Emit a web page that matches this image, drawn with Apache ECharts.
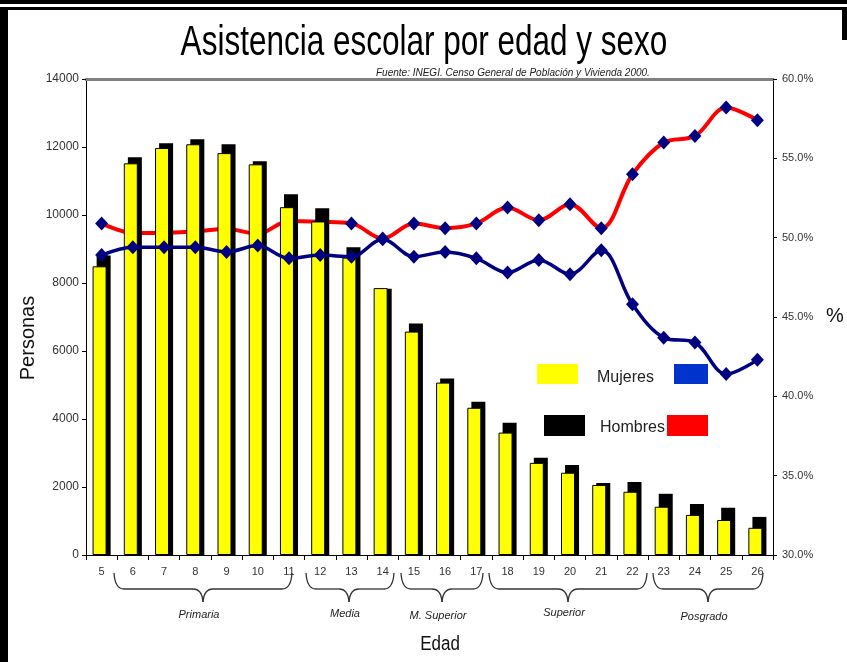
<!DOCTYPE html>
<html><head><meta charset="utf-8">
<script src="https://cdn.jsdelivr.net/npm/echarts@6/dist/echarts.min.js"></script>
<style>html,body{margin:0;padding:0;background:#fff}#c{width:847px;height:662px}</style>
</head><body><div id="c"></div>
<script>
const categories = ['5','6','7','8','9','10','11','12','13','14','15','16','17','18','19','20','21','22','23','24','25','26'];
const mujeres = [8490, 11520, 11970, 12080, 11820, 11490, 10230, 9810, 8750, 7850, 6570, 5070, 4330, 3600, 2710, 2420, 2060, 1860, 1420, 1180, 1030, 800];
const hombres = [8810, 11700, 12110, 12230, 12080, 11580, 10610, 10200, 9050, 7830, 6810, 5190, 4510, 3890, 2860, 2650, 2120, 2150, 1800, 1500, 1390, 1120];
const pctMujeres = [48.9, 49.4, 49.4, 49.4, 49.1, 49.5, 48.7, 48.9, 48.8, 49.9, 48.8, 49.1, 48.7, 47.8, 48.6, 47.7, 49.2, 45.8, 43.7, 43.4, 41.4, 42.3];
const pctHombres = [50.9, 50.3, 50.3, 50.4, 50.55, 50.25, 51.05, 51.0, 50.9, 49.95, 50.9, 50.6, 50.9, 51.9, 51.1, 52.1, 50.6, 54.0, 56.0, 56.4, 58.2, 57.4];
const yTicksLeft = {min: 0, max: 14000, interval: 2000};
const yTicksRight = {min: 30, max: 60, interval: 5};
const groups = [
  {name: 'Primaria', xL: 114, xM: 203, xR: 292, ly: 615},
  {name: 'Media', xL: 306, xM: 349, xR: 394, ly: 614},
  {name: 'M. Superior', xL: 401, xM: 442, xR: 483, ly: 616},
  {name: 'Superior', xL: 489, xM: 568, xR: 647, ly: 613},
  {name: 'Posgrado', xL: 653, xM: 708, xR: 763, ly: 617}
];

const FONT = '"Liberation Sans", Arial, sans-serif';
const chart = echarts.init(document.getElementById('c'), null, {renderer: 'canvas'});

function txt(text, x, y, size, opts) {
  opts = opts || {};
  return {
    type: 'text', x: x, y: y, z: 100,
    rotation: opts.rotation || 0,
    scaleX: opts.scaleX || 1,
    silent: true,
    style: {
      text: text, fill: opts.color || '#222',
      font: (opts.italic ? 'italic ' : '') + size + 'px ' + FONT,
      align: opts.align || 'center', verticalAlign: 'middle',
      textAlign: opts.align || 'center', textVerticalAlign: 'middle'
    }
  };
}
function rect(x, y, w, h, color) {
  return {type: 'rect', z: 100, silent: true, shape: {x: x, y: y, width: w, height: h}, style: {fill: color}};
}
const graphics = [];
// frame
graphics.push(rect(0, 0, 847, 4, '#000'));
graphics.push(rect(0, 7, 847, 3, '#000'));
graphics.push(rect(0, 7, 8, 655, '#000'));
graphics.push(rect(842, 7, 5, 33, '#000'));
// title & texts
graphics.push(txt('Asistencia escolar por edad y sexo', 424, 43, 42, {color: '#000', scaleX: 0.75}));
graphics.push(txt('Fuente: INEGI. Censo General de Población y Vivienda 2000.', 376, 73, 10, {italic: true, align: 'left', color: '#222'}));
graphics.push(txt('Personas', 28, 338, 20, {rotation: Math.PI / 2, color: '#111'}));
graphics.push(txt('%', 835, 316, 20, {color: '#111'}));
graphics.push(txt('Edad', 440, 644, 20, {color: '#111', scaleX: 0.85}));
// legend
graphics.push(rect(537, 364, 41, 20, '#ffff00'));
graphics.push(txt('Mujeres', 597, 378, 16, {align: 'left', color: '#222'}));
graphics.push(rect(674, 364, 34, 20, '#0033cc'));
graphics.push(rect(544, 415, 41, 21, '#000000'));
graphics.push(txt('Hombres', 600, 428, 16, {align: 'left', color: '#222'}));
graphics.push(rect(667, 415, 41, 21, '#ff0000'));
// braces
const yTop = 573, yMid = 589, yTip = 602, r = 10;
const bStyle = {stroke: '#333', lineWidth: 1.3, fill: null};
groups.forEach(function (g) {
  graphics.push({type: 'bezierCurve', z: 100, silent: true, shape: {x1: g.xL, y1: yTop, x2: g.xL + r, y2: yMid, cpx1: g.xL + 1, cpy1: yMid}, style: bStyle});
  graphics.push({type: 'line', z: 100, silent: true, shape: {x1: g.xL + r, y1: yMid, x2: g.xM - r, y2: yMid}, style: bStyle});
  graphics.push({type: 'bezierCurve', z: 100, silent: true, shape: {x1: g.xM - r, y1: yMid, x2: g.xM, y2: yTip, cpx1: g.xM - 1, cpy1: yMid}, style: bStyle});
  graphics.push({type: 'bezierCurve', z: 100, silent: true, shape: {x1: g.xM, y1: yTip, x2: g.xM + r, y2: yMid, cpx1: g.xM + 1, cpy1: yMid}, style: bStyle});
  graphics.push({type: 'line', z: 100, silent: true, shape: {x1: g.xM + r, y1: yMid, x2: g.xR - r, y2: yMid}, style: bStyle});
  graphics.push({type: 'bezierCurve', z: 100, silent: true, shape: {x1: g.xR - r, y1: yMid, x2: g.xR, y2: yTop, cpx1: g.xR - 1, cpy1: yMid}, style: bStyle});
  graphics.push(txt(g.name, g.xM - 4, g.ly, 11, {italic: true, color: '#222'}));
});

const axisLbl = {fontFamily: FONT, fontSize: 11, color: '#333'};
chart.setOption({
  animation: false,
  backgroundColor: '#fff',
  grid: {left: 86, right: 74, top: 79, bottom: 107, containLabel: false},
  xAxis: [
    {type: 'category', data: categories, boundaryGap: true,
     axisLine: {show: true, lineStyle: {color: '#000', width: 1}},
     axisTick: {show: true, length: 5, lineStyle: {color: '#000'}},
     axisLabel: Object.assign({margin: 11, interval: 0}, axisLbl),
     splitLine: {show: false}},
    {type: 'category', data: categories, position: 'top', boundaryGap: true,
     axisLine: {show: true, lineStyle: {color: '#808080', width: 3}},
     axisTick: {show: false}, axisLabel: {show: false}, splitLine: {show: false}}
  ],
  yAxis: [
    {type: 'value', position: 'left', min: yTicksLeft.min, max: yTicksLeft.max, interval: yTicksLeft.interval,
     axisLine: {show: true, lineStyle: {color: '#000', width: 1}},
     axisTick: {show: true, length: 4, lineStyle: {color: '#000'}},
     axisLabel: Object.assign({margin: 7, formatter: function (v) { return String(v); }}, axisLbl, {fontSize: 12}),
     splitLine: {show: false}},
    {type: 'value', position: 'right', min: yTicksRight.min, max: yTicksRight.max, interval: yTicksRight.interval,
     axisLine: {show: true, lineStyle: {color: '#000', width: 1}},
     axisTick: {show: true, length: 4, lineStyle: {color: '#000'}},
     axisLabel: Object.assign({margin: 9, formatter: function (v) { return v.toFixed(1) + '%'; }}, axisLbl),
     splitLine: {show: false}}
  ],
  series: [
    {name: 'Hombres %', type: 'line', yAxisIndex: 1, xAxisIndex: 0, data: pctHombres, z: 1, smooth: 0.35,
     lineStyle: {color: '#ff0000', width: 4}, symbol: 'diamond', symbolSize: [13, 14],
     itemStyle: {color: '#000080'}, silent: true},
    {name: 'Mujeres', type: 'bar', xAxisIndex: 0, yAxisIndex: 0, data: mujeres, barWidth: 14, barGap: '-71%', z: 3,
     itemStyle: {color: '#ffff00', borderColor: '#000', borderWidth: 1}, silent: true},
    {name: 'Hombres', type: 'bar', xAxisIndex: 0, yAxisIndex: 0, data: hombres, barWidth: 14, barGap: '-71%', z: 2,
     itemStyle: {color: '#000000'}, silent: true},
    {name: 'Mujeres %', type: 'line', yAxisIndex: 1, xAxisIndex: 0, data: pctMujeres, z: 4, smooth: 0.35,
     lineStyle: {color: '#000080', width: 3.5}, symbol: 'diamond', symbolSize: [13, 14],
     itemStyle: {color: '#000080'}, silent: true}
  ],
  graphic: graphics
});
</script>
</body></html>
